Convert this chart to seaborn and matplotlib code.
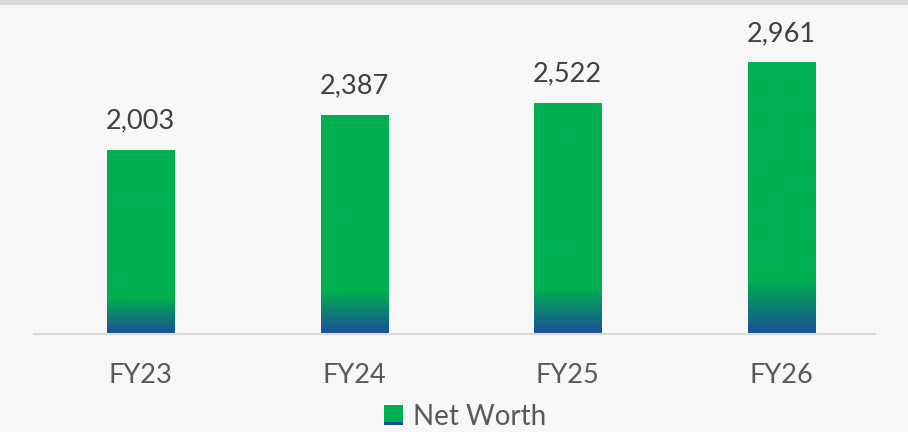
import numpy as np
import pandas as pd
import matplotlib
matplotlib.use("Agg")
import matplotlib.pyplot as plt
import matplotlib.colors as mcolors
from matplotlib.patches import Rectangle
from matplotlib.legend_handler import HandlerBase
import seaborn as sns

years = ["FY23", "FY24", "FY25", "FY26"]
net_worth = [2003, 2387, 2522, 2961]

GREEN = "#00b050"
BLUE = "#1a4f98"
BG = "#f7f7f7"

sns.set_theme(style="white")
plt.rcParams["font.family"] = ["Lato", "DejaVu Sans"]

df = pd.DataFrame({"Year": years, "Net Worth": net_worth})

fig = plt.figure(figsize=(9.08, 4.32), dpi=100, facecolor=BG)
ax = fig.add_axes([0.037, 0.227, 0.927, 0.76])
ax.set_facecolor(BG)

sns.barplot(data=df, x="Year", y="Net Worth", color=GREEN, width=0.314,
            saturation=1, ax=ax)

# gradient over the bottom fifth of each bar
cmap = mcolors.LinearSegmentedColormap.from_list("nw", [BLUE, GREEN])
grad = np.concatenate([np.linspace(0, 1, 50), np.ones(200)]).reshape(-1, 1)
for p in ax.patches:
    x0, w, h = p.get_x(), p.get_width(), p.get_height()
    im = ax.imshow(grad, cmap=cmap, origin="lower", aspect="auto",
                   extent=[x0, x0 + w, 0, h], zorder=p.get_zorder() + 0.1)
    im.set_clip_path(p)

ax.set_xlim(-0.5, 3.44)
ax.set_ylim(0, 3580)

for p, v in zip(ax.patches, net_worth):
    ax.annotate(f"{v:,}", (p.get_x() + p.get_width() / 2, v),
                xytext=(0, 15.5), textcoords="offset points",
                ha="center", va="baseline", fontsize=19.5, color="#404040")

for s in ["top", "right", "left"]:
    ax.spines[s].set_visible(False)
ax.spines["bottom"].set_color("#d9d9d9")
ax.spines["bottom"].set_linewidth(1.5)
ax.set_yticks([])
ax.set_xlabel("")
ax.set_ylabel("")
ax.tick_params(axis="x", length=0, pad=21, labelsize=19.5, labelcolor="#595959")


class GradientHandler(HandlerBase):
    def create_artists(self, legend, orig_handle, xdescent, ydescent,
                       width, height, fontsize, trans):
        s = height
        x = xdescent + (width - s) / 2
        y = -ydescent
        top = Rectangle((x, y + s * 0.15), s, s * 0.85,
                        facecolor=GREEN, transform=trans, lw=0)
        bot = Rectangle((x, y), s, s * 0.15,
                        facecolor=BLUE, transform=trans, lw=0)
        return [top, bot]


handle = Rectangle((0, 0), 1, 1)
fig.legend([handle], ["Net Worth"], handler_map={Rectangle: GradientHandler()},
           loc="lower center", bbox_to_anchor=(0.512, -0.03), frameon=False,
           fontsize=20, labelcolor="#595959", handlelength=0.68,
           handletextpad=0.35, borderpad=0.05)

fig.patches.append(Rectangle((0, 0.988), 1, 0.012, transform=fig.transFigure,
                             facecolor="#d9d9d9", lw=0, zorder=0))

fig.savefig("out.png", dpi=100, facecolor=BG)
